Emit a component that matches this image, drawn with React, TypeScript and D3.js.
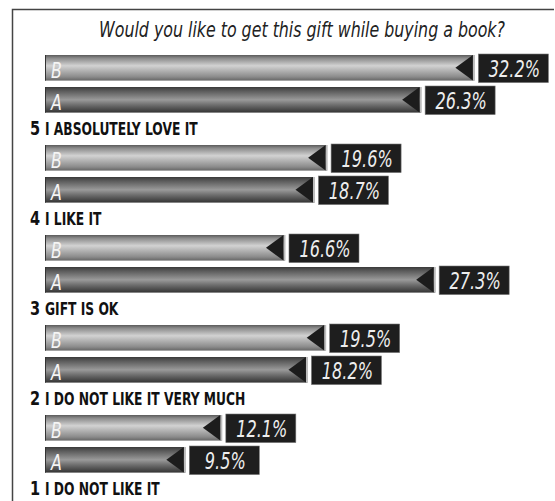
import React from "react";
import * as d3 from "d3";

const title = "Would you like to get this gift while buying a book?";
const ratings = [5, 4, 3, 2, 1];
const labels = [
  "I ABSOLUTELY LOVE IT",
  "I LIKE IT",
  "GIFT IS OK",
  "I DO NOT LIKE IT VERY MUCH",
  "I DO NOT LIKE IT",
];
const seriesNames = ["B", "A"];
const valuesB = [32.2, 19.6, 16.6, 19.5, 12.1];
const valuesA = [26.3, 18.7, 27.3, 18.2, 9.5];

const W = 555;
const H = 501;
const barLeft = 45;
const font = "'DejaVu Sans Condensed', 'DejaVu Sans', sans-serif";

type NTProps = {
  x: number;
  y: number;
  sx: number;
  anchor?: "start" | "middle" | "end";
  size: number;
  fill: string;
  italic?: boolean;
  bold?: boolean;
  children: React.ReactNode;
};

function NarrowText({ x, y, sx, anchor = "start", size, fill, italic, bold, children }: NTProps) {
  return (
    <text
      transform={`translate(${x},${y}) scale(${sx},1)`}
      textAnchor={anchor}
      fontFamily={font}
      fontSize={size}
      fontStyle={italic ? "italic" : "normal"}
      fontWeight={bold ? "bold" : "normal"}
      fill={fill}
    >
      {children}
    </text>
  );
}

export default function App() {
  const y = d3.scaleBand<string>().domain(labels).range([55, 505]).paddingInner(0);
  const inner = d3.scaleBand<string>().domain(seriesNames).range([0, 57.6]).paddingInner(0.2);
  const x = d3.scaleLinear().domain([0, 28, 33]).range([52, 445, 480]);
  const bw = inner.bandwidth();
  const fmt = (v: number) => d3.format(".1f")(v) + "%";

  return (
    <div style={{ position: "fixed", left: 0, top: 0 }}>
      <svg width={W} height={H} style={{ display: "block", background: "#fff" }}>
        <defs>
          <linearGradient id="gB" x1="0" y1="0" x2="0" y2="1">
            <stop offset="0" stopColor="#5a5a5a" />
            <stop offset="0.12" stopColor="#8a8a8a" />
            <stop offset="0.42" stopColor="#d2d2d2" />
            <stop offset="0.6" stopColor="#b4b4b4" />
            <stop offset="0.85" stopColor="#8c8c8c" />
            <stop offset="1" stopColor="#666" />
          </linearGradient>
          <linearGradient id="gA" x1="0" y1="0" x2="0" y2="1">
            <stop offset="0" stopColor="#3a3a3a" />
            <stop offset="0.15" stopColor="#5a5a5a" />
            <stop offset="0.5" stopColor="#9a9a9a" />
            <stop offset="0.7" stopColor="#6e6e6e" />
            <stop offset="1" stopColor="#333" />
          </linearGradient>
        </defs>
        <path d={`M12.5,${H} V9.5 H554`} fill="none" stroke="#444" strokeWidth={1.5} />
        <NarrowText x={302} y={37} sx={0.8} anchor="middle" size={22} fill="#222" italic>
          {title}
        </NarrowText>
        {labels.map((lab, i) => {
          const g0 = y(lab) as number;
          const vals = [valuesB[i], valuesA[i]];
          return (
            <g key={lab}>
              {seriesNames.map((s, j) => {
                const top = g0 + (inner(s) as number);
                const end = x(vals[j]);
                const mid = top + bw / 2;
                return (
                  <g key={s}>
                    <rect x={barLeft} y={top} width={end - barLeft} height={bw} fill={`url(#g${s})`} />
                    <line x1={barLeft + 0.5} x2={barLeft + 0.5} y1={top} y2={top + bw} stroke="#333" />
                    <rect x={end - 1.5} y={top} width={2} height={bw} fill="#bdbdbd" />
                    <path
                      d={`M${end - 1.5},${top} L${end - 19},${mid} L${end - 1.5},${top + bw} Z`}
                      fill="#1c1c1c"
                    />
                    <NarrowText x={barLeft + 6} y={top + bw - 3} sx={0.8} size={22} fill="#f4f4f4" italic>
                      {s}
                    </NarrowText>
                    <rect
                      x={end + 4}
                      y={top - 1}
                      width={70}
                      height={bw + 3}
                      fill="#1e1e1e"
                      stroke="#777"
                      strokeWidth={0.6}
                    />
                    <NarrowText
                      x={end + 4 + 36}
                      y={top + bw - 4}
                      sx={0.78}
                      anchor="middle"
                      size={23}
                      fill="#eeeeee"
                      italic
                    >
                      {fmt(vals[j])}
                    </NarrowText>
                  </g>
                );
              })}
              <NarrowText x={barLeft - 5} y={g0 + 80} sx={0.85} anchor="end" size={19} fill="#111" bold>
                {ratings[i]}
              </NarrowText>
              <NarrowText x={barLeft} y={g0 + 80} sx={0.76} size={18} fill="#111" bold>
                {lab}
              </NarrowText>
            </g>
          );
        })}
      </svg>
    </div>
  );
}
